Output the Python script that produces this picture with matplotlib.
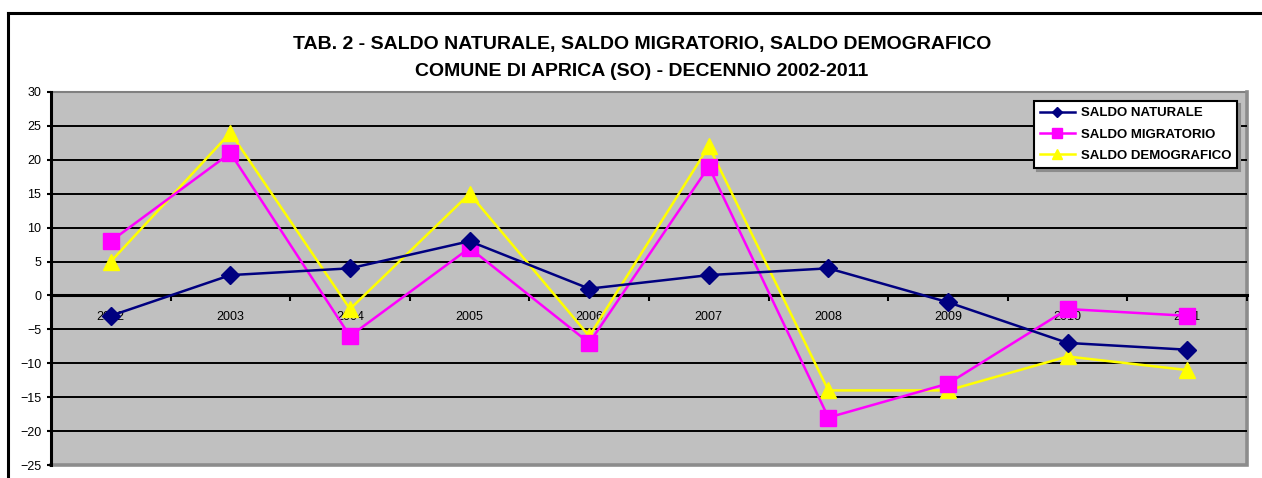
import numpy as np
import matplotlib.pyplot as plt
from matplotlib.lines import Line2D

plt.rcParams['font.family'] = ['Liberation Sans', 'DejaVu Sans']

# data
years = ['2002', '2003', '2004', '2005', '2006', '2007', '2008', '2009', '2010', '2011']
saldo_naturale = [-3, 3, 4, 8, 1, 3, 4, -1, -7, -8]
saldo_migratorio = [8, 21, -6, 7, -7, 19, -18, -13, -2, -3]
saldo_demografico = [5, 24, -2, 15, -6, 22, -14, -14, -9, -11]

W, H = 1262, 478
fig = plt.figure(figsize=(W / 100, H / 100), dpi=100)
ax = fig.add_axes([51 / W, 1 - 465 / H, (1247 - 51) / W, (465 - 92) / H])
ax.set_facecolor('#C0C0C0')

x = np.arange(len(years))

# horizontal grid
for v in range(-20, 30, 5):
    if v == 0:
        continue
    ax.axhline(v, color='black', lw=1.4, zorder=1)

ax.plot(x, saldo_naturale, color='#000080', lw=1.8, marker='D', ms=9,
        label='SALDO NATURALE', zorder=5)
ax.plot(x, saldo_migratorio, color='#FF00FF', lw=1.8, marker='s', ms=11,
        label='SALDO MIGRATORIO', zorder=4)
ax.plot(x, saldo_demografico, color='#FFFF00', lw=1.8, marker='^', ms=12,
        label='SALDO DEMOGRAFICO', zorder=3)

ax.set_xlim(-0.5, len(years) - 0.5)
ax.set_ylim(-25, 30)
ax.set_yticks(range(-25, 31, 5))
ax.tick_params(axis='y', labelsize=9, length=3, width=1.5, pad=4)

# category axis crosses at zero
ax.spines['bottom'].set_position(('data', 0))
ax.spines['bottom'].set_linewidth(2.2)
ax.spines['bottom'].set_zorder(2)
ax.spines['left'].set_linewidth(2.2)
ax.spines['left'].set_zorder(2.5)
ax.spines['top'].set_visible(False)
ax.spines['right'].set_visible(False)
ax.set_xticks(x)
ax.set_xticklabels(years)
ax.set_xticks(np.arange(-0.5, len(years), 1), minor=True)
ax.tick_params(axis='x', which='major', length=0, labelsize=9, pad=11)
ax.tick_params(axis='x', which='minor', length=4, width=1.5)

# grey plot-area border: thin on top, heavier (shadow) on right and bottom
ax.plot([0, 1], [1, 1], transform=ax.transAxes, color='#808080', lw=1.5,
        clip_on=False, zorder=0.6)
ax.plot([1, 1, 0], [1, 0, 0], transform=ax.transAxes, color='#8C8C8C', lw=2.6,
        clip_on=False, zorder=0.6, solid_joinstyle='miter')

leg = ax.legend(loc='upper right', bbox_to_anchor=(0.9916, 0.976),
                prop={'weight': 'bold', 'size': 9.5}, frameon=True, fancybox=False,
                edgecolor='black', framealpha=1, handlelength=2.6, labelspacing=0.7,
                borderpad=0.45, handletextpad=0.45, borderaxespad=0, markerscale=0.6,
                shadow={'color': '#8C8C8C', 'alpha': 1})
leg.get_frame().set_linewidth(1.5)

# titles
fig.text(642 / W, 1 - 45 / H, 'TAB. 2 - SALDO NATURALE, SALDO MIGRATORIO, SALDO DEMOGRAFICO',
         ha='center', va='center', fontsize=14, fontweight='bold')
fig.text(642 / W, 1 - 72 / H, 'COMUNE DI APRICA (SO) - DECENNIO 2002-2011',
         ha='center', va='center', fontsize=14, fontweight='bold')

# outer chart frame (cut at right and bottom)
fig.add_artist(Line2D([8 / W, 1], [1 - 13 / H, 1 - 13 / H], color='black', lw=2.2))
fig.add_artist(Line2D([8 / W, 8 / W], [0, 1 - 13 / H], color='black', lw=2.2))

fig.savefig('out.png', dpi=100)
